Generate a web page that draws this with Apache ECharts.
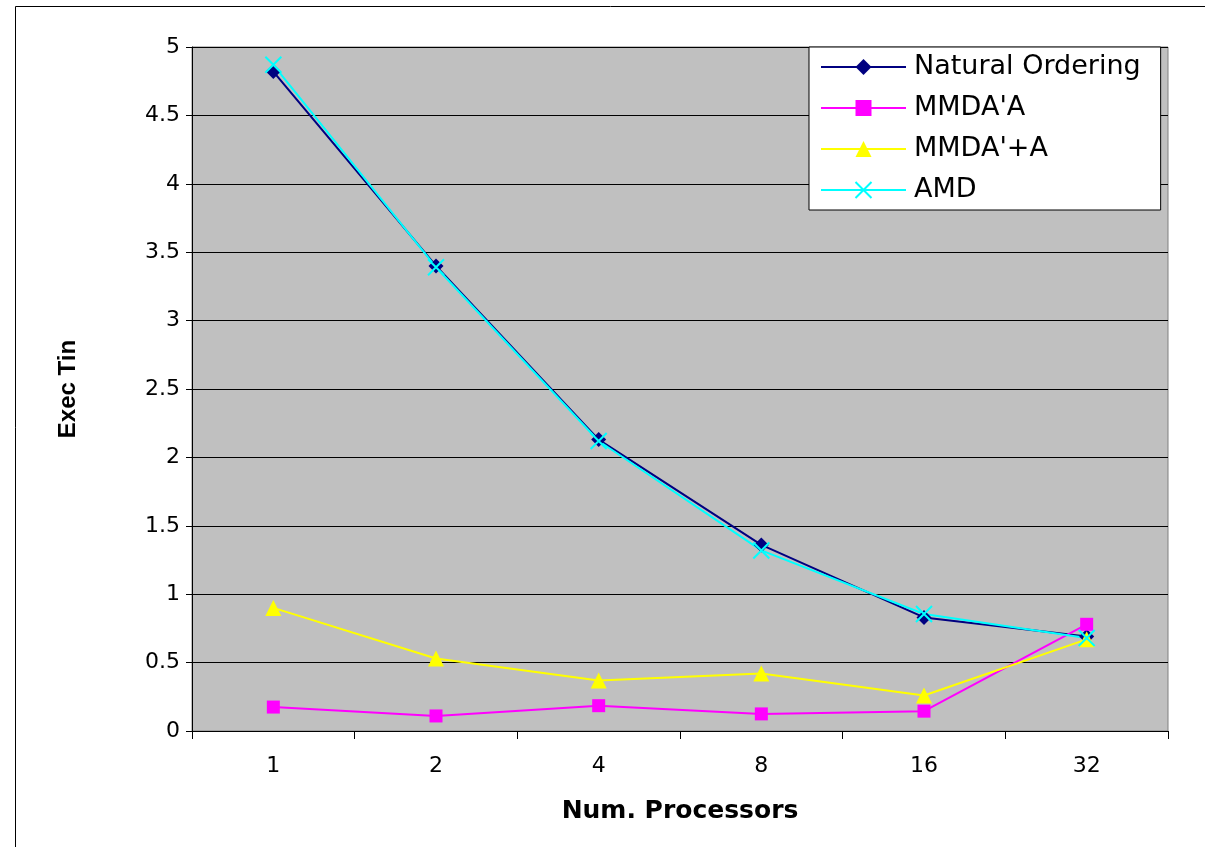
<!DOCTYPE html>
<html>
<head>
<meta charset="utf-8">
<script src="https://cdn.jsdelivr.net/npm/echarts@6/dist/echarts.min.js"></script>
<style>html,body{margin:0;padding:0;background:#fff}#c{width:1205px;height:847px}</style>
</head>
<body>
<div id="c"></div>
<script>
var categories = ['1', '2', '4', '8', '16', '32'];
var naturalOrdering = [4.82, 3.40, 2.13, 1.36, 0.83, 0.69];
var mmdaA = [0.175, 0.11, 0.185, 0.125, 0.145, 0.78];
var mmdaPlusA = [0.90, 0.53, 0.37, 0.42, 0.26, 0.67];
var amd = [4.87, 3.39, 2.12, 1.32, 0.855, 0.68];
var seriesNames = ['Natural Ordering', "MMDA'A", "MMDA'+A", 'AMD'];
var xTitle = 'Num. Processors';
var yTitle = 'Exec Tin';

var chart = echarts.init(document.getElementById('c'), null, {renderer: 'canvas'});
var xSym = 'path://M0,0L10,10M10,0L0,10';
var option = {
  animation: false,
  backgroundColor: '#ffffff',
  graphic: [{
    type: 'rect', left: 13, top: 4, z: 100, silent: true,
    shape: {width: 1190, height: 860},
    style: {fill: 'none', stroke: '#000', lineWidth: 1}
  }],
  grid: {
    left: 192, right: 37, top: 47, bottom: 116,
    show: true, backgroundColor: '#c0c0c0', borderColor: '#808080', borderWidth: 1
  },
  legend: {
    orient: 'vertical', left: 809, top: 47,
    backgroundColor: '#ffffff', borderColor: '#000', borderWidth: 1,
    padding: [5, 20, 5, 11],
    itemWidth: 85, itemHeight: 20, itemGap: 11,
    textStyle: {fontFamily: 'DejaVu Sans', fontSize: 27, color: '#000', lineHeight: 30, padding: [0, 0, 0, 3]},
    data: seriesNames
  },
  xAxis: {
    type: 'category', data: categories, boundaryGap: true,
    name: xTitle, nameLocation: 'middle', nameGap: 68,
    nameTextStyle: {fontFamily: 'DejaVu Sans', fontWeight: 'bold', fontSize: 25, color: '#000'},
    axisLine: {lineStyle: {color: '#000', width: 1}},
    axisTick: {show: true, length: 8, lineStyle: {color: '#000'}},
    axisLabel: {fontFamily: 'DejaVu Sans', fontSize: 22, color: '#000', margin: 24},
    splitLine: {show: false}
  },
  yAxis: {
    type: 'value', min: 0, max: 5, interval: 0.5,
    name: yTitle, nameLocation: 'middle', nameGap: 112, nameRotate: 90,
    nameTextStyle: {fontFamily: 'Liberation Sans', fontWeight: 'bold', fontSize: 24, color: '#000'},
    axisLine: {show: true, lineStyle: {color: '#000', width: 1}},
    axisTick: {show: true, length: 6, lineStyle: {color: '#000'}},
    axisLabel: {fontFamily: 'DejaVu Sans', fontSize: 22, color: '#000', margin: 12},
    splitLine: {show: true, lineStyle: {color: '#000', width: 1}}
  },
  series: [
    {name: seriesNames[0], type: 'line', data: naturalOrdering, symbol: 'diamond', symbolSize: 15,
     itemStyle: {color: '#000080'}, lineStyle: {color: '#000080', width: 2}},
    {name: seriesNames[1], type: 'line', data: mmdaA, symbol: 'rect', symbolSize: 13,
     itemStyle: {color: '#ff00ff'}, lineStyle: {color: '#ff00ff', width: 2}},
    {name: seriesNames[2], type: 'line', data: mmdaPlusA, symbol: 'triangle', symbolSize: 16,
     itemStyle: {color: '#ffff00'}, lineStyle: {color: '#ffff00', width: 2}},
    {name: seriesNames[3], type: 'line', data: amd, symbol: xSym, symbolSize: 16,
     itemStyle: {color: '#00ffff', borderColor: '#00ffff', borderWidth: 2}, lineStyle: {color: '#00ffff', width: 2}}
  ]
};
chart.setOption(option);
</script>
</body>
</html>
